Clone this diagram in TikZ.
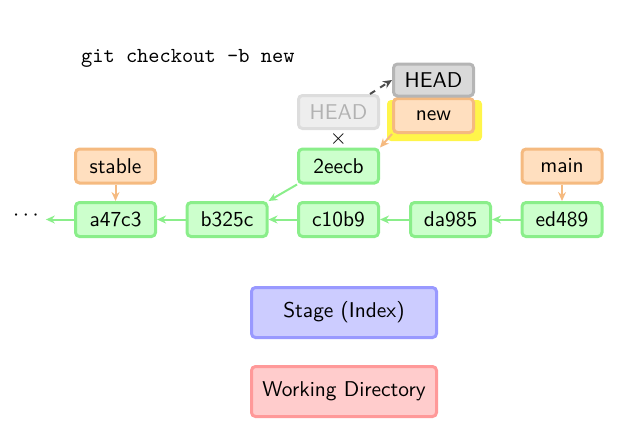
\documentclass[tikz,border=0pt]{standalone}
\usetikzlibrary{arrows.meta}
\definecolor{commitfill}{HTML}{CCFFCC}
\definecolor{commitline}{HTML}{8AEE8A}
\definecolor{branchfill}{HTML}{FFDFBF}
\definecolor{branchline}{HTML}{F5BA80}
\definecolor{headfill}{HTML}{D9D9D9}
\definecolor{headline}{HTML}{B5B5B5}
\definecolor{oldfill}{HTML}{EEEEEE}
\definecolor{oldline}{HTML}{DDDDDD}
\definecolor{stagefill}{HTML}{CCCCFF}
\definecolor{stageline}{HTML}{9999FF}
\definecolor{workfill}{HTML}{FFCCCC}
\definecolor{workline}{HTML}{FF9999}
\definecolor{marker}{HTML}{FFF54A}
\tikzset{
  box/.style={rounded corners=2pt, line width=1.5pt, minimum width=40pt,
    minimum height=17pt, inner sep=0pt},
  commit/.style={box, fill=commitfill, draw=commitline},
  branch/.style={box, fill=branchfill, draw=branchline},
  area/.style={box, minimum width=92.5pt, minimum height=25pt},
  link/.style={line width=1pt, -{Stealth[length=4.5pt,width=4pt]}}
}
\begin{document}
\begin{tikzpicture}[x=0.5pt, y=-0.5pt, font=\fontsize{10.7}{13}\selectfont\sffamily]
    \useasboundingbox (0,0) rectangle (630,446);

    % Command
    \node[anchor=west, font=\fontsize{10.7}{13}\selectfont\ttfamily] (cmd) at (74,58) {git checkout -b new};

    % Commits
    \node (dots) at (26,216) {$\cdots$};
    \node[commit] (a47c3) at (115.5,219.5) {a47c3};
    \node[commit] (b325c) at (227,219.5) {b325c};
    \node[commit] (c10b9) at (338.5,219.5) {c10b9};
    \node[commit] (da985) at (450.5,219.5) {da985};
    \node[commit] (ed489) at (562,219.5) {ed489};
    \node[commit] (2eecb) at (338.5,166) {2eecb};

    % Branches
    \node[branch] (stable) at (115.5,166) {stable};
    \node[branch] (main) at (562,166) {main};
    \fill[marker, rounded corners=2pt] (387,100) rectangle (482,141);
    \node[branch] (new) at (433.5,115.5) {new};
    \node[box, fill=headfill, draw=headline, minimum height=16pt] (head) at (433.5,80) {HEAD};
    \node[box, fill=oldfill, draw=oldline, text=black!30, minimum height=16.5pt] (oldhead) at (338.5,112) {HEAD};

    % Parents
    \draw[link, commitline] (ed489) -- (da985);
    \draw[link, commitline] (da985) -- (c10b9);
    \draw[link, commitline] (c10b9) -- (b325c);
    \draw[link, commitline] (b325c) -- (a47c3);
    \draw[link, commitline] (a47c3.west) -- (a47c3.west -| dots.east);
    \draw[link, commitline] (2eecb.south west) -- (b325c.north east);

    % Refs
    \draw[link, branchline] (stable) -- (a47c3);
    \draw[link, branchline] (main) -- (ed489);
    \draw[link, branchline] (new.south west) -- (2eecb.north east);
    \draw[link, black!70, dashed] ([xshift=-5pt]oldhead.north east) -- (head.west);
    \node (cross) at (338.5,139) {$\times$};

    % Areas
    \node[area, fill=stagefill, draw=stageline] (stage) at (344,312.5) {Stage (Index)};
    \node[area, fill=workfill, draw=workline] (work) at (344,391.5) {Working Directory};
\end{tikzpicture}
\end{document}
